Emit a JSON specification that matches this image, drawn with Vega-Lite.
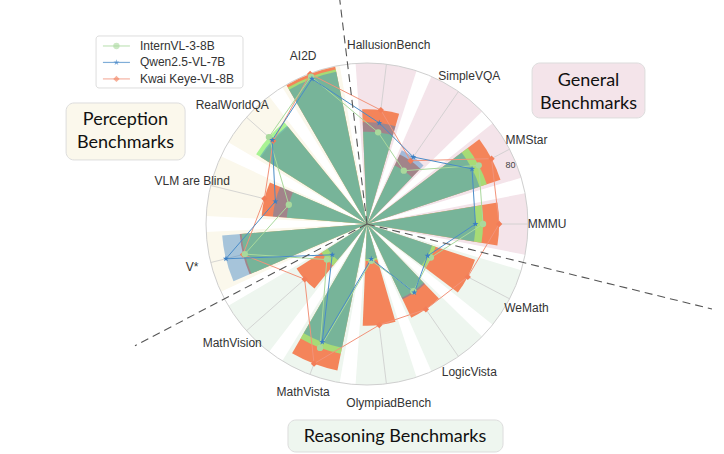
{
  "$schema": "https://vega.github.io/schema/vega-lite/v6.json",
  "width": 714,
  "height": 448,
  "autosize": {"type": "none"},
  "padding": {"left": 10, "top": 0, "right": 0, "bottom": 6},
  "background": "white",
  "data": {"values": [{}]},
  "config": {"view": {"stroke": null}},
  "datasets": {
    "bench": [
      {"bench": "MMMU", "group": "General", "idx": 0},
      {"bench": "MMStar", "group": "General", "idx": 1},
      {"bench": "SimpleVQA", "group": "General", "idx": 2},
      {"bench": "HallusionBench", "group": "General", "idx": 3},
      {"bench": "AI2D", "group": "Perception", "idx": 4},
      {"bench": "RealWorldQA", "group": "Perception", "idx": 5},
      {"bench": "VLM are Blind", "group": "Perception", "idx": 6},
      {"bench": "V*", "group": "Perception", "idx": 7},
      {"bench": "MathVision", "group": "Reasoning", "idx": 8},
      {"bench": "MathVista", "group": "Reasoning", "idx": 9},
      {"bench": "OlympiadBench", "group": "Reasoning", "idx": 10},
      {"bench": "LogicVista", "group": "Reasoning", "idx": 11},
      {"bench": "WeMath", "group": "Reasoning", "idx": 12}
    ],
    "models": [
      {"model": "InternVL-3-8B", "order": 0},
      {"model": "Qwen2.5-VL-7B", "order": 1},
      {"model": "Kwai Keye-VL-8B", "order": 2}
    ],
    "boundaries": [
      {"between": "Perception | General", "at": 3.5, "len": 130},
      {"between": "General | Reasoning", "at": 12.5, "len": 192},
      {"between": "Perception | Reasoning", "at": 7.5, "len": 141.6}
    ],
    "scores": [
      {"bench": "MMMU", "model": "Kwai Keye-VL-8B", "score": 71.4},
      {"bench": "MMStar", "model": "Kwai Keye-VL-8B", "score": 76.0},
      {"bench": "SimpleVQA", "model": "Kwai Keye-VL-8B", "score": 41.5},
      {"bench": "HallusionBench", "model": "Kwai Keye-VL-8B", "score": 62.0},
      {"bench": "AI2D", "model": "Kwai Keye-VL-8B", "score": 86.7},
      {"bench": "RealWorldQA", "model": "Kwai Keye-VL-8B", "score": 67.7},
      {"bench": "VLM are Blind", "model": "Kwai Keye-VL-8B", "score": 57.1},
      {"bench": "V*", "model": "Kwai Keye-VL-8B", "score": 69.0},
      {"bench": "MathVision", "model": "Kwai Keye-VL-8B", "score": 45.0},
      {"bench": "MathVista", "model": "Kwai Keye-VL-8B", "score": 80.7},
      {"bench": "OlympiadBench", "model": "Kwai Keye-VL-8B", "score": 55.0},
      {"bench": "LogicVista", "model": "Kwai Keye-VL-8B", "score": 56.0},
      {"bench": "WeMath", "model": "Kwai Keye-VL-8B", "score": 61.5},
      {"bench": "MMMU", "model": "InternVL-3-8B", "score": 62.7},
      {"bench": "MMStar", "model": "InternVL-3-8B", "score": 68.2},
      {"bench": "SimpleVQA", "model": "InternVL-3-8B", "score": 35.0},
      {"bench": "HallusionBench", "model": "InternVL-3-8B", "score": 49.9},
      {"bench": "AI2D", "model": "InternVL-3-8B", "score": 85.2},
      {"bench": "RealWorldQA", "model": "InternVL-3-8B", "score": 70.8},
      {"bench": "VLM are Blind", "model": "InternVL-3-8B", "score": 43.5},
      {"bench": "V*", "model": "InternVL-3-8B", "score": 68.0},
      {"bench": "MathVision", "model": "InternVL-3-8B", "score": 29.0},
      {"bench": "MathVista", "model": "InternVL-3-8B", "score": 71.6},
      {"bench": "OlympiadBench", "model": "InternVL-3-8B", "score": 20.0},
      {"bench": "LogicVista", "model": "InternVL-3-8B", "score": 44.1},
      {"bench": "WeMath", "model": "InternVL-3-8B", "score": 39.0},
      {"bench": "MMMU", "model": "Qwen2.5-VL-7B", "score": 58.6},
      {"bench": "MMStar", "model": "Qwen2.5-VL-7B", "score": 64.1},
      {"bench": "SimpleVQA", "model": "Qwen2.5-VL-7B", "score": 44.0},
      {"bench": "HallusionBench", "model": "Qwen2.5-VL-7B", "score": 55.0},
      {"bench": "AI2D", "model": "Qwen2.5-VL-7B", "score": 83.9},
      {"bench": "RealWorldQA", "model": "Qwen2.5-VL-7B", "score": 68.4},
      {"bench": "VLM are Blind", "model": "Qwen2.5-VL-7B", "score": 51.0},
      {"bench": "V*", "model": "Qwen2.5-VL-7B", "score": 78.5},
      {"bench": "MathVision", "model": "Qwen2.5-VL-7B", "score": 25.1},
      {"bench": "MathVista", "model": "Qwen2.5-VL-7B", "score": 68.2},
      {"bench": "OlympiadBench", "model": "Qwen2.5-VL-7B", "score": 19.0},
      {"bench": "LogicVista", "model": "Qwen2.5-VL-7B", "score": 45.0},
      {"bench": "WeMath", "model": "Qwen2.5-VL-7B", "score": 37.0}
    ]
  },
  "layer": [
    {
      "data": {"name": "bench"},
      "mark": {"type": "arc", "thetaOffset": -0.192, "theta2Offset": 0.192},
      "encoding": {
        "theta": {"field": "idx", "type": "quantitative", "stack": null, "scale": {"domain": [0, 13], "range": [1.5707963, -4.712389]}},
        "theta2": {"field": "idx"},
        "radius": {"datum": 87, "type": "quantitative", "scale": {"type": "linear", "domain": [0, 87], "range": [0, 161], "zero": true}},
        "fill": {"field": "group", "type": "nominal", "legend": null, "scale": {"domain": ["General", "Perception", "Reasoning"], "range": ["#f4e4ea", "#fbf8ec", "#eef6ef"]}}
      }
    },
    {
      "data": {"name": "bench"},
      "transform": [
        {"calculate": "0", "as": "o"},
        {"calculate": "87 * cos(datum.idx * 2 * PI / 13)", "as": "gx"},
        {"calculate": "87 * sin(datum.idx * 2 * PI / 13)", "as": "gy"}
      ],
      "mark": {"type": "rule", "stroke": "#cccccc", "strokeWidth": 0.8},
      "encoding": {
        "x": {"field": "o", "type": "quantitative", "scale": {"domain": [-192.91, 192.91], "nice": false, "zero": false}, "axis": null},
        "y": {"field": "o", "type": "quantitative", "scale": {"domain": [-121.04, 121.04], "nice": false, "zero": false}, "axis": null},
        "x2": {"field": "gx"},
        "y2": {"field": "gy"}
      }
    },
    {
      "mark": {"type": "arc", "theta": 0, "theta2": 6.2832, "fillOpacity": 0, "stroke": "#cfcfcf", "strokeWidth": 1},
      "encoding": {
        "radius": {"datum": 87, "type": "quantitative"}
      }
    },
    {
      "data": {"name": "scores"},
      "transform": [
        {"filter": "datum.model === 'Kwai Keye-VL-8B'"},
        {"lookup": "bench", "from": {"data": {"name": "bench"}, "key": "bench", "fields": ["idx"]}}
      ],
      "mark": {"type": "arc", "thetaOffset": -0.163, "theta2Offset": 0.163, "fill": "#f4845a", "opacity": 1},
      "encoding": {
        "theta": {"field": "idx", "type": "quantitative", "stack": null},
        "theta2": {"field": "idx"},
        "radius": {"field": "score", "type": "quantitative"}
      }
    },
    {
      "data": {"name": "scores"},
      "transform": [
        {"filter": "datum.model === 'InternVL-3-8B'"},
        {"lookup": "bench", "from": {"data": {"name": "bench"}, "key": "bench", "fields": ["idx"]}}
      ],
      "mark": {"type": "arc", "thetaOffset": -0.163, "theta2Offset": 0.163, "fill": "#94f17d", "opacity": 0.8},
      "encoding": {
        "theta": {"field": "idx", "type": "quantitative", "stack": null},
        "theta2": {"field": "idx"},
        "radius": {"field": "score", "type": "quantitative"}
      }
    },
    {
      "data": {"name": "scores"},
      "transform": [
        {"filter": "datum.model === 'Qwen2.5-VL-7B'"},
        {"lookup": "bench", "from": {"data": {"name": "bench"}, "key": "bench", "fields": ["idx"]}}
      ],
      "mark": {"type": "arc", "thetaOffset": -0.163, "theta2Offset": 0.163, "fill": "#3f86c6", "opacity": 0.45},
      "encoding": {
        "theta": {"field": "idx", "type": "quantitative", "stack": null},
        "theta2": {"field": "idx"},
        "radius": {"field": "score", "type": "quantitative"}
      }
    },
    {
      "data": {"name": "scores"},
      "transform": [
        {"lookup": "bench", "from": {"data": {"name": "bench"}, "key": "bench", "fields": ["idx"]}},
        {"calculate": "datum.score * cos(datum.idx * 2 * PI / 13)", "as": "px"},
        {"calculate": "datum.score * sin(datum.idx * 2 * PI / 13)", "as": "py"}
      ],
      "mark": {"type": "line", "interpolate": "linear-closed", "strokeWidth": 1},
      "encoding": {
        "x": {"field": "px", "type": "quantitative"},
        "y": {"field": "py", "type": "quantitative"},
        "order": {"field": "idx", "type": "quantitative"},
        "stroke": {"field": "model", "type": "nominal", "legend": null, "scale": {"domain": ["InternVL-3-8B", "Qwen2.5-VL-7B", "Kwai Keye-VL-8B"], "range": ["#a9d99c", "#4a8cc8", "#f2937a"]}}
      }
    },
    {
      "data": {"name": "scores"},
      "transform": [
        {"lookup": "bench", "from": {"data": {"name": "bench"}, "key": "bench", "fields": ["idx"]}},
        {"calculate": "datum.score * cos(datum.idx * 2 * PI / 13)", "as": "px"},
        {"calculate": "datum.score * sin(datum.idx * 2 * PI / 13)", "as": "py"}
      ],
      "mark": {"type": "point", "filled": true, "size": 40, "opacity": 1},
      "encoding": {
        "x": {"field": "px", "type": "quantitative"},
        "y": {"field": "py", "type": "quantitative"},
        "color": {"field": "model", "type": "nominal", "legend": null, "scale": {"domain": ["InternVL-3-8B", "Qwen2.5-VL-7B", "Kwai Keye-VL-8B"], "range": ["#a9d99c", "#3b7fc4", "#f27d58"]}},
        "shape": {"field": "model", "type": "nominal", "legend": null, "scale": {"domain": ["InternVL-3-8B", "Qwen2.5-VL-7B", "Kwai Keye-VL-8B"], "range": ["circle", "M0,-1L0.235,-0.324L0.951,-0.309L0.38,0.124L0.588,0.809L0,0.4L-0.588,0.809L-0.38,0.124L-0.951,-0.309L-0.235,-0.324Z", "diamond"]}}
      }
    },
    {
      "data": {"name": "boundaries"},
      "transform": [
        {"calculate": "0", "as": "o"},
        {"calculate": "datum.len * cos(datum.at * 2 * PI / 13)", "as": "ex"},
        {"calculate": "datum.len * sin(datum.at * 2 * PI / 13)", "as": "ey"}
      ],
      "mark": {"type": "rule", "stroke": "#555555", "strokeWidth": 1.1, "strokeDash": [8, 5]},
      "encoding": {
        "x": {"field": "o", "type": "quantitative"},
        "y": {"field": "o", "type": "quantitative"},
        "x2": {"field": "ex"},
        "y2": {"field": "ey"}
      }
    },
    {
      "data": {"name": "bench"},
      "transform": [
        {"calculate": "97.3 * cos(datum.idx * 2 * PI / 13)", "as": "lx"},
        {"calculate": "97.3 * sin(datum.idx * 2 * PI / 13)", "as": "ly"}
      ],
      "mark": {"type": "text", "font": "Liberation Sans", "fontSize": 12, "color": "#333333", "align": "center", "baseline": "middle"},
      "encoding": {
        "x": {"field": "lx", "type": "quantitative"},
        "y": {"field": "ly", "type": "quantitative"},
        "text": {"field": "bench", "type": "nominal"}
      }
    },
    {
      "mark": {"type": "text", "font": "Liberation Sans", "fontSize": 9, "color": "#444444", "align": "center", "baseline": "middle"},
      "encoding": {
        "x": {"datum": 77.6, "type": "quantitative"},
        "y": {"datum": 32.1, "type": "quantitative"},
        "text": {"value": "80"}
      }
    },
    {
      "mark": {"type": "rect", "fill": "#ffffff", "stroke": "#dddddd", "strokeWidth": 1, "cornerRadius": 3},
      "encoding": {
        "x": {"datum": -146.4, "type": "quantitative"},
        "x2": {"datum": -67.0},
        "y": {"datum": 101.6, "type": "quantitative"},
        "y2": {"datum": 73.5}
      }
    },
    {
      "data": {"name": "models"},
      "transform": [
        {"calculate": "96.2 - datum.order * 8.9", "as": "ly"},
        {"calculate": "-142.7", "as": "lx0"},
        {"calculate": "-128.1", "as": "lx1"}
      ],
      "mark": {"type": "rule", "strokeWidth": 1.2, "opacity": 0.7},
      "encoding": {
        "x": {"field": "lx0", "type": "quantitative"},
        "x2": {"field": "lx1"},
        "y": {"field": "ly", "type": "quantitative"},
        "stroke": {"field": "model", "type": "nominal", "legend": null}
      }
    },
    {
      "data": {"name": "models"},
      "transform": [
        {"calculate": "96.2 - datum.order * 8.9", "as": "ly"},
        {"calculate": "-135.4", "as": "lm"}
      ],
      "mark": {"type": "point", "filled": true, "size": 40, "opacity": 0.6},
      "encoding": {
        "x": {"field": "lm", "type": "quantitative"},
        "y": {"field": "ly", "type": "quantitative"},
        "color": {"field": "model", "type": "nominal", "legend": null},
        "shape": {"field": "model", "type": "nominal", "legend": null}
      }
    },
    {
      "data": {"name": "models"},
      "transform": [
        {"calculate": "96.2 - datum.order * 8.9", "as": "ly"},
        {"calculate": "-122.7", "as": "lt"}
      ],
      "mark": {"type": "text", "font": "Liberation Sans", "fontSize": 12, "color": "#333333", "align": "left", "baseline": "middle"},
      "encoding": {
        "x": {"field": "lt", "type": "quantitative"},
        "y": {"field": "ly", "type": "quantitative"},
        "text": {"field": "model", "type": "nominal"}
      }
    },
    {
      "mark": {"type": "rect", "fill": "#fbf8ec", "stroke": "#dddddd", "strokeWidth": 1, "cornerRadius": 8},
      "encoding": {
        "x": {"datum": -162.6, "type": "quantitative"},
        "x2": {"datum": -98.3},
        "y": {"datum": 65.4, "type": "quantitative"},
        "y2": {"datum": 34.6}
      }
    },
    {
      "mark": {"type": "rect", "fill": "#f4e4ea", "stroke": "#dddddd", "strokeWidth": 1, "cornerRadius": 8},
      "encoding": {
        "x": {"datum": 89.2, "type": "quantitative"},
        "x2": {"datum": 150.2},
        "y": {"datum": 87.0, "type": "quantitative"},
        "y2": {"datum": 57.3}
      }
    },
    {
      "mark": {"type": "rect", "fill": "#eef6ef", "stroke": "#dddddd", "strokeWidth": 1, "cornerRadius": 8},
      "encoding": {
        "x": {"datum": -42.7, "type": "quantitative"},
        "x2": {"datum": 73.5},
        "y": {"datum": -105.9, "type": "quantitative"},
        "y2": {"datum": -123.2}
      }
    },
    {
      "mark": {"type": "text", "font": "Lato", "fontSize": 18, "color": "#111111", "align": "center", "baseline": "middle", "lineHeight": 23},
      "encoding": {
        "x": {"datum": -130.5, "type": "quantitative"},
        "y": {"datum": 56.2, "type": "quantitative"},
        "text": {"value": ["Perception", "Benchmarks"]}
      }
    },
    {
      "mark": {"type": "text", "font": "Lato", "fontSize": 18, "color": "#111111", "align": "center", "baseline": "middle", "lineHeight": 23},
      "encoding": {
        "x": {"datum": 119.7, "type": "quantitative"},
        "y": {"datum": 77.3, "type": "quantitative"},
        "text": {"value": ["General", "Benchmarks"]}
      }
    },
    {
      "mark": {"type": "text", "font": "Lato", "fontSize": 18, "color": "#111111", "align": "center", "baseline": "middle"},
      "encoding": {
        "x": {"datum": 15.1, "type": "quantitative"},
        "y": {"datum": -115.1, "type": "quantitative"},
        "text": {"value": "Reasoning Benchmarks"}
      }
    }
  ]
}
